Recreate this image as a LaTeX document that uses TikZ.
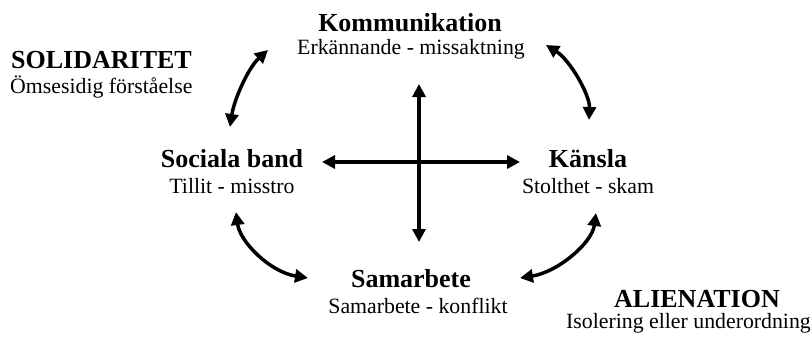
\documentclass[tikz,border=0pt]{standalone}
\usepackage{fontspec}
\setmainfont{Liberation Serif}
\usetikzlibrary{arrows.meta}
\begin{document}
\begin{tikzpicture}[x=1pt,y=-1pt,
  head/.style={font=\fontsize{26}{30}\selectfont\bfseries, inner sep=0pt, anchor=base},
  sub/.style={font=\fontsize{21.8}{26}\selectfont, inner sep=0pt, anchor=base},
  arr/.style={line width=3.5pt, {Triangle[length=13pt,width=13pt]}-{Triangle[length=13pt,width=13pt]}}]
\useasboundingbox (0,0) rectangle (811,337);
% labels
\node[head] (komm) at (410,32) {Kommunikation};
\node[sub] (kommsub) at (411,55) {Erkännande - missaktning};
\node[head, anchor=base west] (sol) at (11,69) {SOLIDARITET};
\node[sub, anchor=base west] (solsub) at (10,93) {Ömsesidig förståelse};
\node[head] (soc) at (232,167) {Sociala band};
\node[sub] (socsub) at (232,193) {Tillit - misstro};
\node[head] (kan) at (588,167) {Känsla};
\node[sub] (kansub) at (588,193) {Stolthet - skam};
\node[head] (sam) at (411,287) {Samarbete};
\node[sub] (samsub) at (418,313) {Samarbete - konflikt};
\node[head] (ali) at (697,307) {ALIENATION};
\node[sub, anchor=base east] (alisub) at (811,328) {Isolering eller underordning};
% arrow end points
\coordinate (vt) at (419,84);
\coordinate (vb) at (419,242);
\coordinate (hl) at (322,162);
\coordinate (hr) at (520,162);
\coordinate (tla) at (230,127);
\coordinate (tlb) at (268,50);
\coordinate (tra) at (546,45);
\coordinate (trb) at (589,120);
\coordinate (bla) at (236,212);
\coordinate (blb) at (308,278);
\coordinate (bra) at (596,213);
\coordinate (brb) at (520,278);
% arrows
\draw[arr] (vt) -- (vb);
\draw[arr] (hl) -- (hr);
\draw[arr] (tla) .. controls (234,100) and (248,68) .. (tlb);
\draw[arr] (tra) .. controls (570,60) and (590,95) .. (trb);
\draw[arr] (bla) .. controls (240,242) and (270,272) .. (blb);
\draw[arr] (bra) .. controls (592,243) and (558,272) .. (brb);
\end{tikzpicture}
\end{document}
